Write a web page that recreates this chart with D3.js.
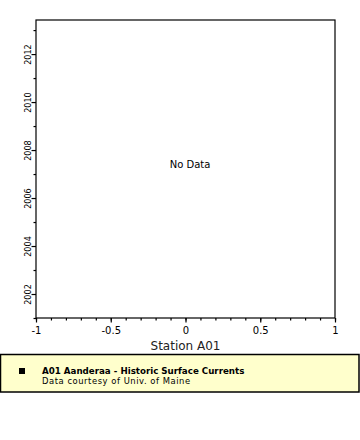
<!DOCTYPE html>
<html><head><meta charset="utf-8">
<script src="https://cdn.jsdelivr.net/npm/d3@7"></script>
<style>body{margin:0;background:#fff}svg{display:block}</style>
</head><body>
<script>
const xDomain = [-1, 1];
const xTickValues = [-1, -0.5, 0, 0.5, 1];
const xTickLabels = ["-1", "-0.5", "0", "0.5", "1"];
const xMinorStep = 0.1;
const yDomain = [2001, 2013.42];
const yTickValues = [2002, 2004, 2006, 2008, 2010, 2012];
const yTickLabels = ["2002", "2004", "2006", "2008", "2010", "2012"];
const yMinorValues = [2001, 2003, 2005, 2007, 2009, 2011, 2013];
const seriesValues = []; // no data
const xTitle = "Station A01";
const noDataText = "No Data";
const legendTitle = "A01 Aanderaa - Historic Surface Currents";
const legendSub = "Data courtesy of Univ. of Maine";

const W = 360, H = 440;
const L = 36, T = 20, R = 335, B = 318;
const svg = d3.select("body").append("svg").attr("width", W).attr("height", H);
const x = d3.scaleLinear().domain(xDomain).range([L, R]);
const y = d3.scaleLinear().domain(yDomain).range([B, T]);

svg.append("rect").attr("x", L).attr("y", T).attr("width", R - L).attr("height", B - T)
  .attr("fill", "#fff").attr("stroke", "#000").attr("stroke-width", 1.2);

// x minor ticks
const xMinor = d3.range(xDomain[0], xDomain[1] + 1e-9, xMinorStep);
svg.append("g").attr("transform", `translate(0,${B})`)
  .call(d3.axisBottom(x).tickValues(xMinor).tickSize(2.5).tickFormat(""))
  .call(g => g.select(".domain").remove());
svg.append("g").attr("transform", `translate(0,${B})`)
  .call(d3.axisBottom(x).tickValues(xTickValues).tickSize(4.5).tickPadding(4)
    .tickFormat((d, i) => xTickLabels[i]))
  .call(g => g.select(".domain").remove())
  .call(g => g.selectAll("text").attr("font-family", "DejaVu Sans").attr("font-size", 10).attr("fill", "#000"));

// y ticks
svg.append("g").attr("transform", `translate(${L},0)`)
  .call(d3.axisLeft(y).tickValues(yMinorValues).tickSize(2.5).tickFormat(""))
  .call(g => g.select(".domain").remove());
const yAx = svg.append("g").attr("transform", `translate(${L},0)`)
  .call(d3.axisLeft(y).tickValues(yTickValues).tickSize(4.5).tickFormat(""))
  .call(g => g.select(".domain").remove());
yAx.selectAll(".tick").append("text")
  .attr("transform", "translate(-5,0) rotate(-90)")
  .attr("text-anchor", "middle").attr("dy", 0)
  .attr("font-family", "DejaVu Sans Condensed, DejaVu Sans").attr("font-size", 9).attr("fill", "#000")
  .text((d, i) => yTickLabels[i]);
svg.selectAll(".tick line").attr("stroke", "#000").attr("stroke-width", 1.2);

svg.append("text").attr("x", (L + R) / 2).attr("y", 350).attr("text-anchor", "middle")
  .attr("font-family", "DejaVu Sans").attr("font-size", 12).attr("fill", "#222").text(xTitle);

if (seriesValues.length === 0) {
  svg.append("text").attr("x", 190).attr("y", 168).attr("text-anchor", "middle")
    .attr("font-family", "DejaVu Sans").attr("font-size", 10).attr("fill", "#000").text(noDataText);
}

// legend
svg.append("rect").attr("x", 0.5).attr("y", 354.5).attr("width", 358.5).attr("height", 37.5)
  .attr("fill", "#ffffcc").attr("stroke", "#000").attr("stroke-width", 1.5);
svg.append("rect").attr("x", 19).attr("y", 368).attr("width", 6).attr("height", 6).attr("fill", "#000");
svg.append("text").attr("x", 42).attr("y", 373.5).attr("font-family", "DejaVu Sans").attr("font-weight", "bold")
  .attr("font-size", 8.7).attr("fill", "#000").text(legendTitle);
svg.append("text").attr("x", 42).attr("y", 383.5).attr("font-family", "DejaVu Sans")
  .attr("font-size", 8.4).attr("letter-spacing", 0.55).attr("fill", "#000").text(legendSub);
</script>
</body></html>
